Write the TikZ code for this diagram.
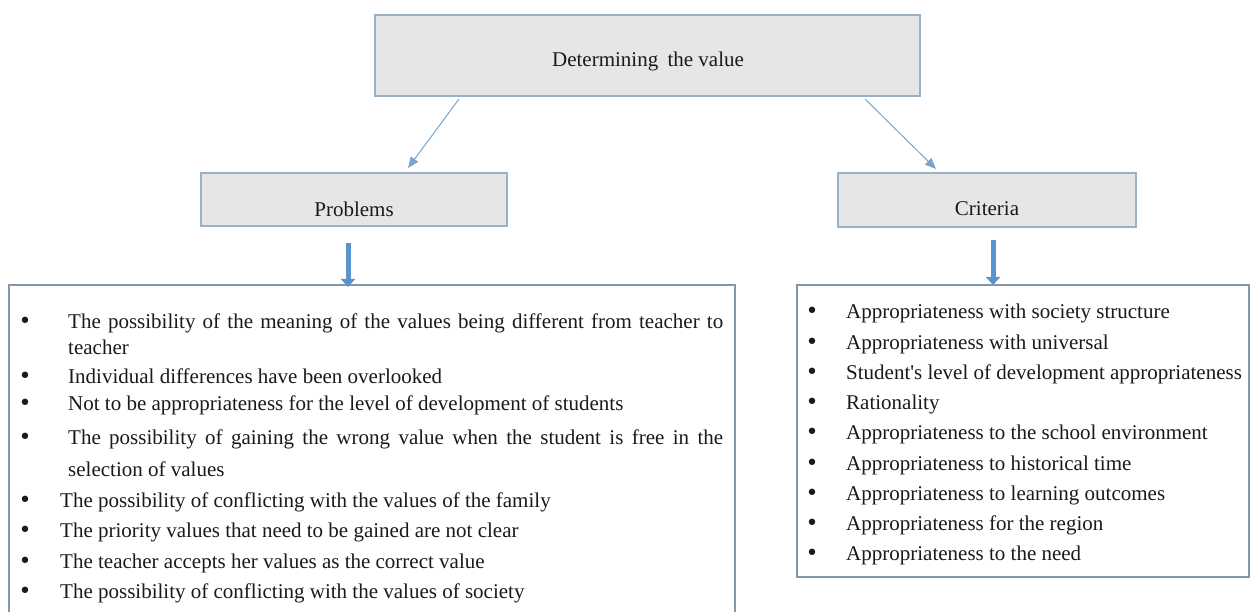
\documentclass[tikz,border=0pt]{standalone}
\usepackage{fontspec}
\setmainfont{Liberation Serif}
\newfontfamily\bulfont{DejaVu Sans}
\usetikzlibrary{arrows.meta}
\definecolor{boxfill}{HTML}{E7E6E7}
\definecolor{boxline}{HTML}{9AB1C6}
\definecolor{listline}{HTML}{8596A8}
\definecolor{thinblue}{HTML}{7AA3CB}
\definecolor{thickblue}{HTML}{5B93CF}
\definecolor{ink}{HTML}{1A1A1A}
\newcommand{\bigbul}{•}
\tikzset{
  graybox/.style={draw=boxline, fill=boxfill, line width=1.4pt, inner sep=0pt},
  listbox/.style={draw=listline, fill=white, line width=1.2pt},
  thinarrow/.style={draw=thinblue, line width=1pt, -{Triangle[length=11pt,width=9pt]}},
  thickarrow/.style={draw=thickblue, line width=5pt, -{Triangle[length=8pt,width=14pt]}},
  lbl/.style={anchor=base, inner sep=0pt, text=ink},
  bul/.style={anchor=base, inner sep=0pt, text=ink, font=\bulfont\fontsize{22}{22}\selectfont},
  itm/.style={anchor=base west, inner sep=0pt, text=ink}
}
\begin{document}
\begin{tikzpicture}[x=1pt,y=-1pt,font=\fontsize{21}{25}\selectfont]
\useasboundingbox (0,0) rectangle (1250,612);

% top level box
\node[graybox, minimum width=545pt, minimum height=81pt] (top) at (647.5,55.5) {};
\node[lbl] (toptxt) at (648,67) {Determining\hspace{4pt} the value};

% second level boxes
\node[graybox, minimum width=306pt, minimum height=53pt] (prob) at (354,199.5) {};
\node[lbl] (probtxt) at (354,217) {Problems};
\node[graybox, minimum width=298pt, minimum height=54pt] (crit) at (987,200) {};
\node[lbl] (crittxt) at (987,216) {Criteria};

% thin connectors
\coordinate (a1s) at (459,99);
\coordinate (a1e) at (408,168);
\coordinate (a2s) at (865,99);
\coordinate (a2e) at (936,169);
\draw[thinarrow] (a1s) -- (a1e);
\draw[thinarrow] (a2s) -- (a2e);

% list boxes
\draw[listbox] (9,285) rectangle (735,640);
\node[inner sep=0pt, minimum width=726pt, minimum height=355pt] (plist) at (372,462.5) {};
\draw[listbox] (797,285) rectangle (1249,577);
\node[inner sep=0pt, minimum width=452pt, minimum height=292pt] (clist) at (1023,431) {};

% thick connectors
\coordinate (t1s) at (348,243);
\coordinate (t1e) at (348,287);
\coordinate (t2s) at (993,240);
\coordinate (t2e) at (993,285);
\draw[thickarrow] (t1s) -- (t1e);
\draw[thickarrow] (t2s) -- (t2e);

% problems list
\node[bul] (pb1) at (25,328) {\bigbul};
\node[itm] (pt1a) at (68,328) {\makebox[655pt][s]{The possibility of the meaning of the values being different from teacher to}};
\node[itm] (pt1b) at (68,354) {teacher};
\node[bul] (pb2) at (25,383) {\bigbul};
\node[itm] (pt2) at (68,383) {Individual differences have been overlooked};
\node[bul] (pb3) at (25,410) {\bigbul};
\node[itm] (pt3) at (68,410) {Not to be appropriateness for the level of development of students};
\node[bul] (pb4) at (25,444) {\bigbul};
\node[itm] (pt4a) at (68,444) {\makebox[655pt][s]{The possibility of gaining the wrong value when the student is free in the}};
\node[itm] (pt4b) at (68,476) {selection of values};
\node[bul] (pb5) at (25,507) {\bigbul};
\node[itm] (pt5) at (60,507) {The possibility of conflicting with the values of the family};
\node[bul] (pb6) at (25,537) {\bigbul};
\node[itm] (pt6) at (60,537) {The priority values that need to be gained are not clear};
\node[bul] (pb7) at (25,568) {\bigbul};
\node[itm] (pt7) at (60,568) {The teacher accepts her values as the correct value};
\node[bul] (pb8) at (25,598) {\bigbul};
\node[itm] (pt8) at (60,598) {The possibility of conflicting with the values of society};

% criteria list
\foreach \t [count=\i from 0] in {
  Appropriateness with society structure,
  Appropriateness with universal,
  Student\textquotesingle s level of development appropriateness,
  Rationality,
  Appropriateness to the school environment,
  Appropriateness to historical time,
  Appropriateness to learning outcomes,
  Appropriateness for the region,
  Appropriateness to the need}{
  \node[bul] (cb\i) at (812,319+30.2*\i) {\bigbul};
  \node[itm] (ct\i) at (846,319+30.2*\i) {\t};
}
\end{tikzpicture}
\end{document}
